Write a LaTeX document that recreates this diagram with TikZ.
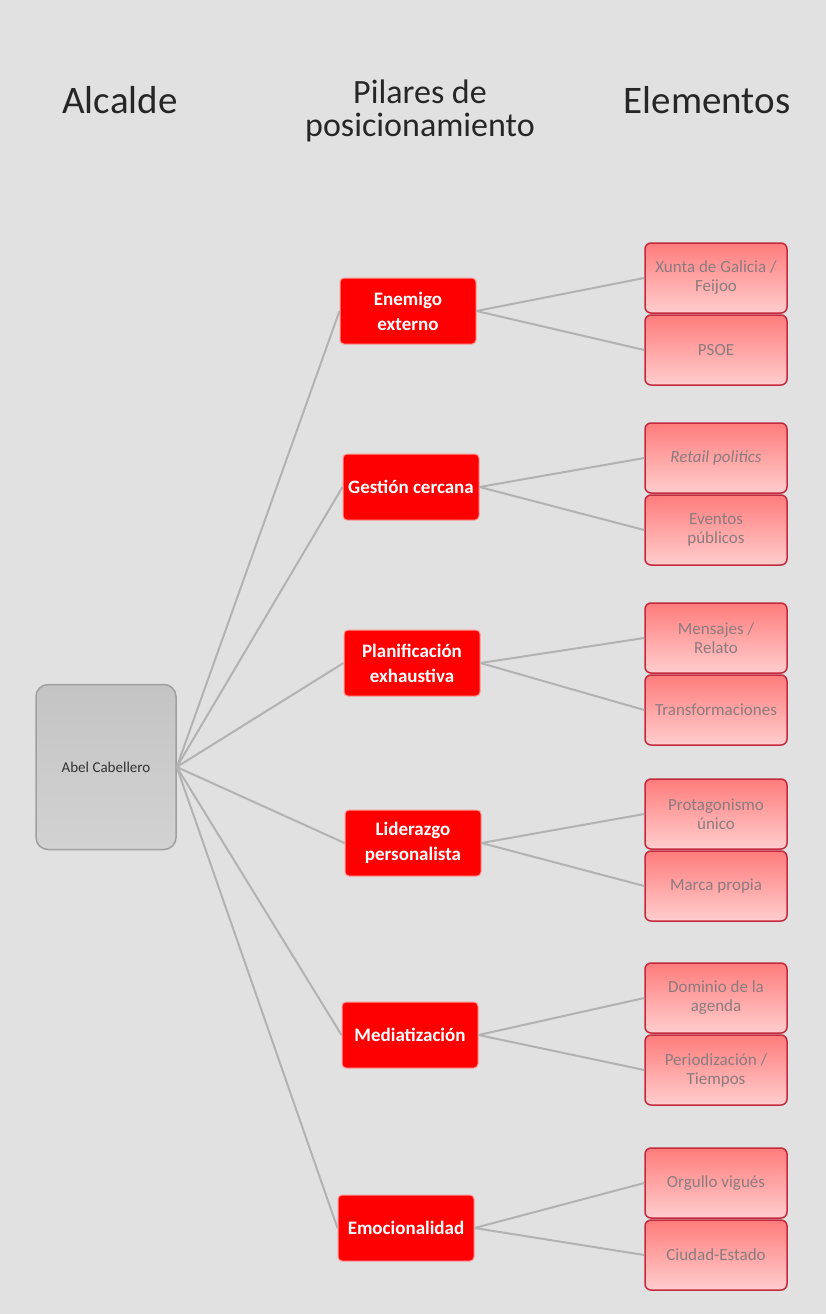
\documentclass[tikz,border=0pt]{standalone}
\usepackage{fontspec}
\setmainfont{Carlito}
\usepackage{xcolor}
\definecolor{fondo}{HTML}{E1E1E1}
\definecolor{rojo}{HTML}{FF0000}
\definecolor{borde}{HTML}{C42A3E}
\definecolor{linea}{HTML}{B2B2B2}
\definecolor{texto}{HTML}{8C7B7F}
\definecolor{rosaA}{HTML}{FF7C7C}
\definecolor{rosaB}{HTML}{FFCDCD}
\definecolor{grisA}{HTML}{C4C4C4}
\definecolor{grisB}{HTML}{D2D2D2}
\tikzset{
	titulo/.style={font=\fontsize{39}{40}\selectfont,align=center,text=black!85},
	alcalde/.style={rectangle,rounded corners=12pt,draw=gray!75,line width=1.5pt,top color=grisA,bottom color=grisB,minimum width=140pt,minimum height=165pt,inner sep=0pt,font=\fontsize{15}{17}\selectfont,text=black!80},
	pilar/.style={rectangle,rounded corners=4pt,fill=rojo,draw=white!60!rojo,line width=1pt,text=white,font=\bfseries\fontsize{19}{25}\selectfont,minimum width=136pt,minimum height=66pt,inner sep=0pt,align=center},
	elemento/.style={rectangle,rounded corners=6pt,draw=borde,line width=1.5pt,top color=rosaA,bottom color=rosaB,text=texto,font=\fontsize{17}{19}\selectfont,minimum width=142pt,minimum height=70pt,inner sep=0pt,align=center},
	enlace/.style={draw=linea,line width=2pt}
}
\begin{document}
\begin{tikzpicture}[x=1pt,y=-1pt]
				\fill[fondo] (0,0) rectangle (826,1314);
				\useasboundingbox (0,0) rectangle (826,1314);
				
				\node(t1) at (120,100)[titulo]{Alcalde};
				\node(t2) at (420,111)[titulo,font=\fontsize{34}{33}\selectfont]{Pilares de\\posicionamiento};
				\node(t3) at (707,100)[titulo]{Elementos};
				
				\node(abel) at (106,767)[alcalde]{Abel Cabellero};
				
				\node(p1) at (408,311)[pilar]{Enemigo\\externo};
				\node(p2) at (411,487)[pilar]{Gestión cercana};
				\node(p3) at (412,663)[pilar]{Planificación\\exhaustiva};
				\node(p4) at (413,843)[pilar]{Liderazgo\\personalista};
				\node(p5) at (410,1035)[pilar]{Mediatización};
				\node(p6) at (406,1228)[pilar]{Emocionalidad};
				
				\node(e1a) at (716,278)[elemento]{Xunta de Galicia /\\Feijoo};
				\node(e1b) at (716,350)[elemento]{PSOE};
				\node(e2a) at (716,458)[elemento]{\itshape Retail politics};
				\node(e2b) at (716,530)[elemento]{Eventos\\públicos};
				\node(e3a) at (716,638)[elemento]{Mensajes /\\Relato};
				\node(e3b) at (716,710)[elemento]{Transformaciones};
				\node(e4a) at (716,814)[elemento]{Protagonismo\\único};
				\node(e4b) at (716,886)[elemento]{Marca propia};
				\node(e5a) at (716,998)[elemento]{Dominio de la\\agenda};
				\node(e5b) at (716,1070)[elemento]{Periodización /\\Tiempos};
				\node(e6a) at (716,1183)[elemento]{Orgullo vigués};
				\node(e6b) at (716,1255)[elemento]{Ciudad-Estado};
				
				\draw[enlace] (abel.east) to (p1.west);
				\draw[enlace] (abel.east) to (p2.west);
				\draw[enlace] (abel.east) to (p3.west);
				\draw[enlace] (abel.east) to (p4.west);
				\draw[enlace] (abel.east) to (p5.west);
				\draw[enlace] (abel.east) to (p6.west);
				\draw[enlace] (p1.east) to (e1a.west);
				\draw[enlace] (p1.east) to (e1b.west);
				\draw[enlace] (p2.east) to (e2a.west);
				\draw[enlace] (p2.east) to (e2b.west);
				\draw[enlace] (p3.east) to (e3a.west);
				\draw[enlace] (p3.east) to (e3b.west);
				\draw[enlace] (p4.east) to (e4a.west);
				\draw[enlace] (p4.east) to (e4b.west);
				\draw[enlace] (p5.east) to (e5a.west);
				\draw[enlace] (p5.east) to (e5b.west);
				\draw[enlace] (p6.east) to (e6a.west);
				\draw[enlace] (p6.east) to (e6b.west);
				
			\end{tikzpicture}
\end{document}
